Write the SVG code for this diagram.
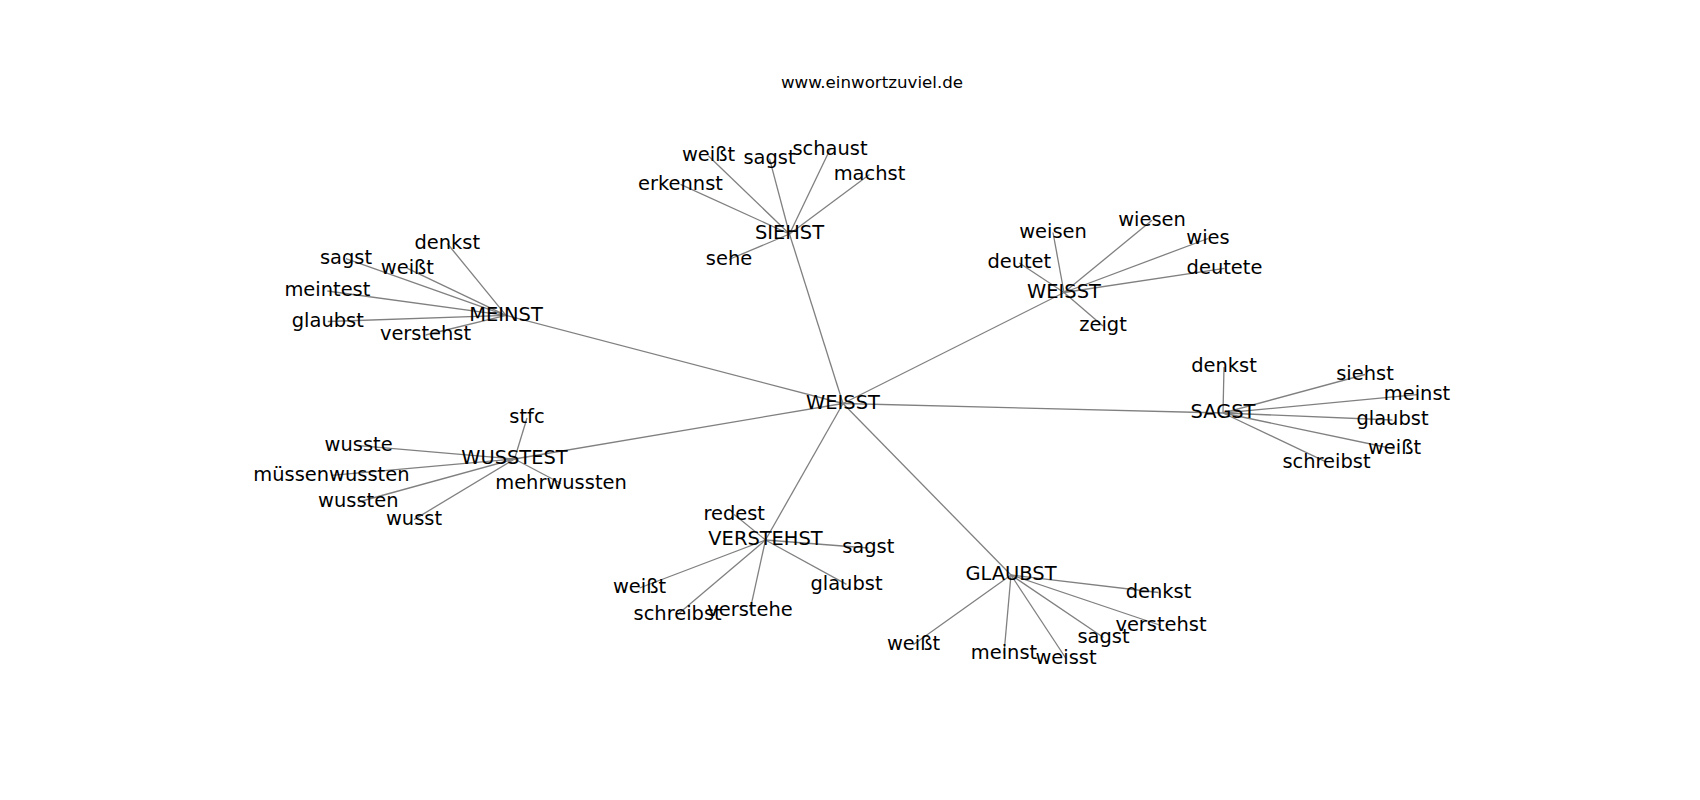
<svg xmlns="http://www.w3.org/2000/svg" width="1700" height="800" viewBox="0 0 1700 800">
<style>
.e line{stroke:#808080;stroke-width:1.3;fill:none}
.n text{font-family:"DejaVu Sans",sans-serif;font-size:19.44px;fill:#000;text-anchor:middle}
.t{font-family:"DejaVu Sans",sans-serif;font-size:16.67px;fill:#000;text-anchor:middle}
</style>
<rect width="1700" height="800" fill="#fff"/>
<text class="t" x="872" y="87.5">www.einwortzuviel.de</text>
<g id="edges" class="e">
<line x1="843" y1="403.5" x2="789.5" y2="234"/>
<line x1="843" y1="403.5" x2="1064" y2="292.5"/>
<line x1="843" y1="403.5" x2="1223" y2="413"/>
<line x1="843" y1="403.5" x2="1011" y2="575"/>
<line x1="843" y1="403.5" x2="765.5" y2="540"/>
<line x1="843" y1="403.5" x2="514.5" y2="459"/>
<line x1="843" y1="403.5" x2="506" y2="315.3"/>
<line x1="789.5" y1="234" x2="708.5" y2="156"/>
<line x1="789.5" y1="234" x2="769.5" y2="158.7"/>
<line x1="789.5" y1="234" x2="830" y2="149.5"/>
<line x1="789.5" y1="234" x2="869.5" y2="174.5"/>
<line x1="789.5" y1="234" x2="680.5" y2="184.3"/>
<line x1="789.5" y1="234" x2="729" y2="259.5"/>
<line x1="506" y1="315.3" x2="447.3" y2="243.5"/>
<line x1="506" y1="315.3" x2="346" y2="258.7"/>
<line x1="506" y1="315.3" x2="407.4" y2="268.3"/>
<line x1="506" y1="315.3" x2="327.4" y2="291"/>
<line x1="506" y1="315.3" x2="327.8" y2="321.5"/>
<line x1="506" y1="315.3" x2="425.5" y2="335"/>
<line x1="1064" y1="292.5" x2="1053" y2="232.5"/>
<line x1="1064" y1="292.5" x2="1152" y2="220.3"/>
<line x1="1064" y1="292.5" x2="1208" y2="238.5"/>
<line x1="1064" y1="292.5" x2="1019.3" y2="263"/>
<line x1="1064" y1="292.5" x2="1224.5" y2="268.3"/>
<line x1="1064" y1="292.5" x2="1103" y2="326"/>
<line x1="1223" y1="413" x2="1224" y2="367"/>
<line x1="1223" y1="413" x2="1365" y2="374.5"/>
<line x1="1223" y1="413" x2="1417" y2="394.6"/>
<line x1="1223" y1="413" x2="1392.5" y2="420"/>
<line x1="1223" y1="413" x2="1394.5" y2="449"/>
<line x1="1223" y1="413" x2="1326.5" y2="462.2"/>
<line x1="514.5" y1="459" x2="527" y2="418"/>
<line x1="514.5" y1="459" x2="358.6" y2="445.6"/>
<line x1="514.5" y1="459" x2="331.4" y2="475.4"/>
<line x1="514.5" y1="459" x2="358.3" y2="502"/>
<line x1="514.5" y1="459" x2="414" y2="519.6"/>
<line x1="514.5" y1="459" x2="561" y2="483.5"/>
<line x1="765.5" y1="540" x2="734.2" y2="514.6"/>
<line x1="765.5" y1="540" x2="868.3" y2="548"/>
<line x1="765.5" y1="540" x2="639.5" y2="588"/>
<line x1="765.5" y1="540" x2="677.6" y2="614.6"/>
<line x1="765.5" y1="540" x2="750" y2="610.3"/>
<line x1="765.5" y1="540" x2="846.5" y2="584.4"/>
<line x1="1011" y1="575" x2="1158.5" y2="592.5"/>
<line x1="1011" y1="575" x2="1161" y2="625.5"/>
<line x1="1011" y1="575" x2="1103.5" y2="637.5"/>
<line x1="1011" y1="575" x2="1066" y2="658.5"/>
<line x1="1011" y1="575" x2="1004" y2="653.5"/>
<line x1="1011" y1="575" x2="913.5" y2="644.5"/>
</g>
<g id="n-weisst-center" class="n"><text x="843" y="408.9">WEISST</text></g>
<g id="n-siehst" class="n"><text x="789.5" y="239.4">SIEHST</text></g>
<g id="n-weisst" class="n"><text x="1064" y="297.9">WEISST</text></g>
<g id="n-sagst" class="n"><text x="1223" y="418.4">SAGST</text></g>
<g id="n-glaubst" class="n"><text x="1011" y="580.4">GLAUBST</text></g>
<g id="n-verstehst" class="n"><text x="765.5" y="545.4">VERSTEHST</text></g>
<g id="n-wusstest" class="n"><text x="514.5" y="464.4">WUSSTEST</text></g>
<g id="n-meinst" class="n"><text x="506" y="320.7">MEINST</text></g>
<g id="n-siehst-weisst" class="n"><text x="708.5" y="161.4">weißt</text></g>
<g id="n-siehst-sagst" class="n"><text x="769.5" y="164.1">sagst</text></g>
<g id="n-siehst-schaust" class="n"><text x="830" y="154.9">schaust</text></g>
<g id="n-siehst-machst" class="n"><text x="869.5" y="179.9">machst</text></g>
<g id="n-siehst-erkennst" class="n"><text x="680.5" y="189.7">erkennst</text></g>
<g id="n-siehst-sehe" class="n"><text x="729" y="264.9">sehe</text></g>
<g id="n-meinst-denkst" class="n"><text x="447.3" y="248.9">denkst</text></g>
<g id="n-meinst-sagst" class="n"><text x="346" y="264.1">sagst</text></g>
<g id="n-meinst-weisst" class="n"><text x="407.4" y="273.7">weißt</text></g>
<g id="n-meinst-meintest" class="n"><text x="327.4" y="296.4">meintest</text></g>
<g id="n-meinst-glaubst" class="n"><text x="327.8" y="326.9">glaubst</text></g>
<g id="n-meinst-verstehst" class="n"><text x="425.5" y="340.4">verstehst</text></g>
<g id="n-weisst-weisen" class="n"><text x="1053" y="237.9">weisen</text></g>
<g id="n-weisst-wiesen" class="n"><text x="1152" y="225.7">wiesen</text></g>
<g id="n-weisst-wies" class="n"><text x="1208" y="243.9">wies</text></g>
<g id="n-weisst-deutet" class="n"><text x="1019.3" y="268.4">deutet</text></g>
<g id="n-weisst-deutete" class="n"><text x="1224.5" y="273.7">deutete</text></g>
<g id="n-weisst-zeigt" class="n"><text x="1103" y="331.4">zeigt</text></g>
<g id="n-sagst-denkst" class="n"><text x="1224" y="372.4">denkst</text></g>
<g id="n-sagst-siehst" class="n"><text x="1365" y="379.9">siehst</text></g>
<g id="n-sagst-meinst" class="n"><text x="1417" y="400">meinst</text></g>
<g id="n-sagst-glaubst" class="n"><text x="1392.5" y="425.4">glaubst</text></g>
<g id="n-sagst-weisst" class="n"><text x="1394.5" y="454.4">weißt</text></g>
<g id="n-sagst-schreibst" class="n"><text x="1326.5" y="467.6">schreibst</text></g>
<g id="n-wusstest-stfc" class="n"><text x="527" y="423.4">stfc</text></g>
<g id="n-wusstest-wusste" class="n"><text x="358.6" y="451">wusste</text></g>
<g id="n-wusstest-muessenwussten" class="n"><text x="331.4" y="480.8">müssenwussten</text></g>
<g id="n-wusstest-wussten" class="n"><text x="358.3" y="507.4">wussten</text></g>
<g id="n-wusstest-wusst" class="n"><text x="414" y="525">wusst</text></g>
<g id="n-wusstest-mehrwussten" class="n"><text x="561" y="488.9">mehrwussten</text></g>
<g id="n-verstehst-redest" class="n"><text x="734.2" y="520">redest</text></g>
<g id="n-verstehst-sagst" class="n"><text x="868.3" y="553.4">sagst</text></g>
<g id="n-verstehst-weisst" class="n"><text x="639.5" y="593.4">weißt</text></g>
<g id="n-verstehst-schreibst" class="n"><text x="677.6" y="620">schreibst</text></g>
<g id="n-verstehst-verstehe" class="n"><text x="750" y="615.7">verstehe</text></g>
<g id="n-verstehst-glaubst" class="n"><text x="846.5" y="589.8">glaubst</text></g>
<g id="n-glaubst-denkst" class="n"><text x="1158.5" y="597.9">denkst</text></g>
<g id="n-glaubst-verstehst" class="n"><text x="1161" y="630.9">verstehst</text></g>
<g id="n-glaubst-sagst" class="n"><text x="1103.5" y="642.9">sagst</text></g>
<g id="n-glaubst-weisst2" class="n"><text x="1066" y="663.9">weisst</text></g>
<g id="n-glaubst-meinst" class="n"><text x="1004" y="658.9">meinst</text></g>
<g id="n-glaubst-weisst" class="n"><text x="913.5" y="649.9">weißt</text></g>
</svg>
